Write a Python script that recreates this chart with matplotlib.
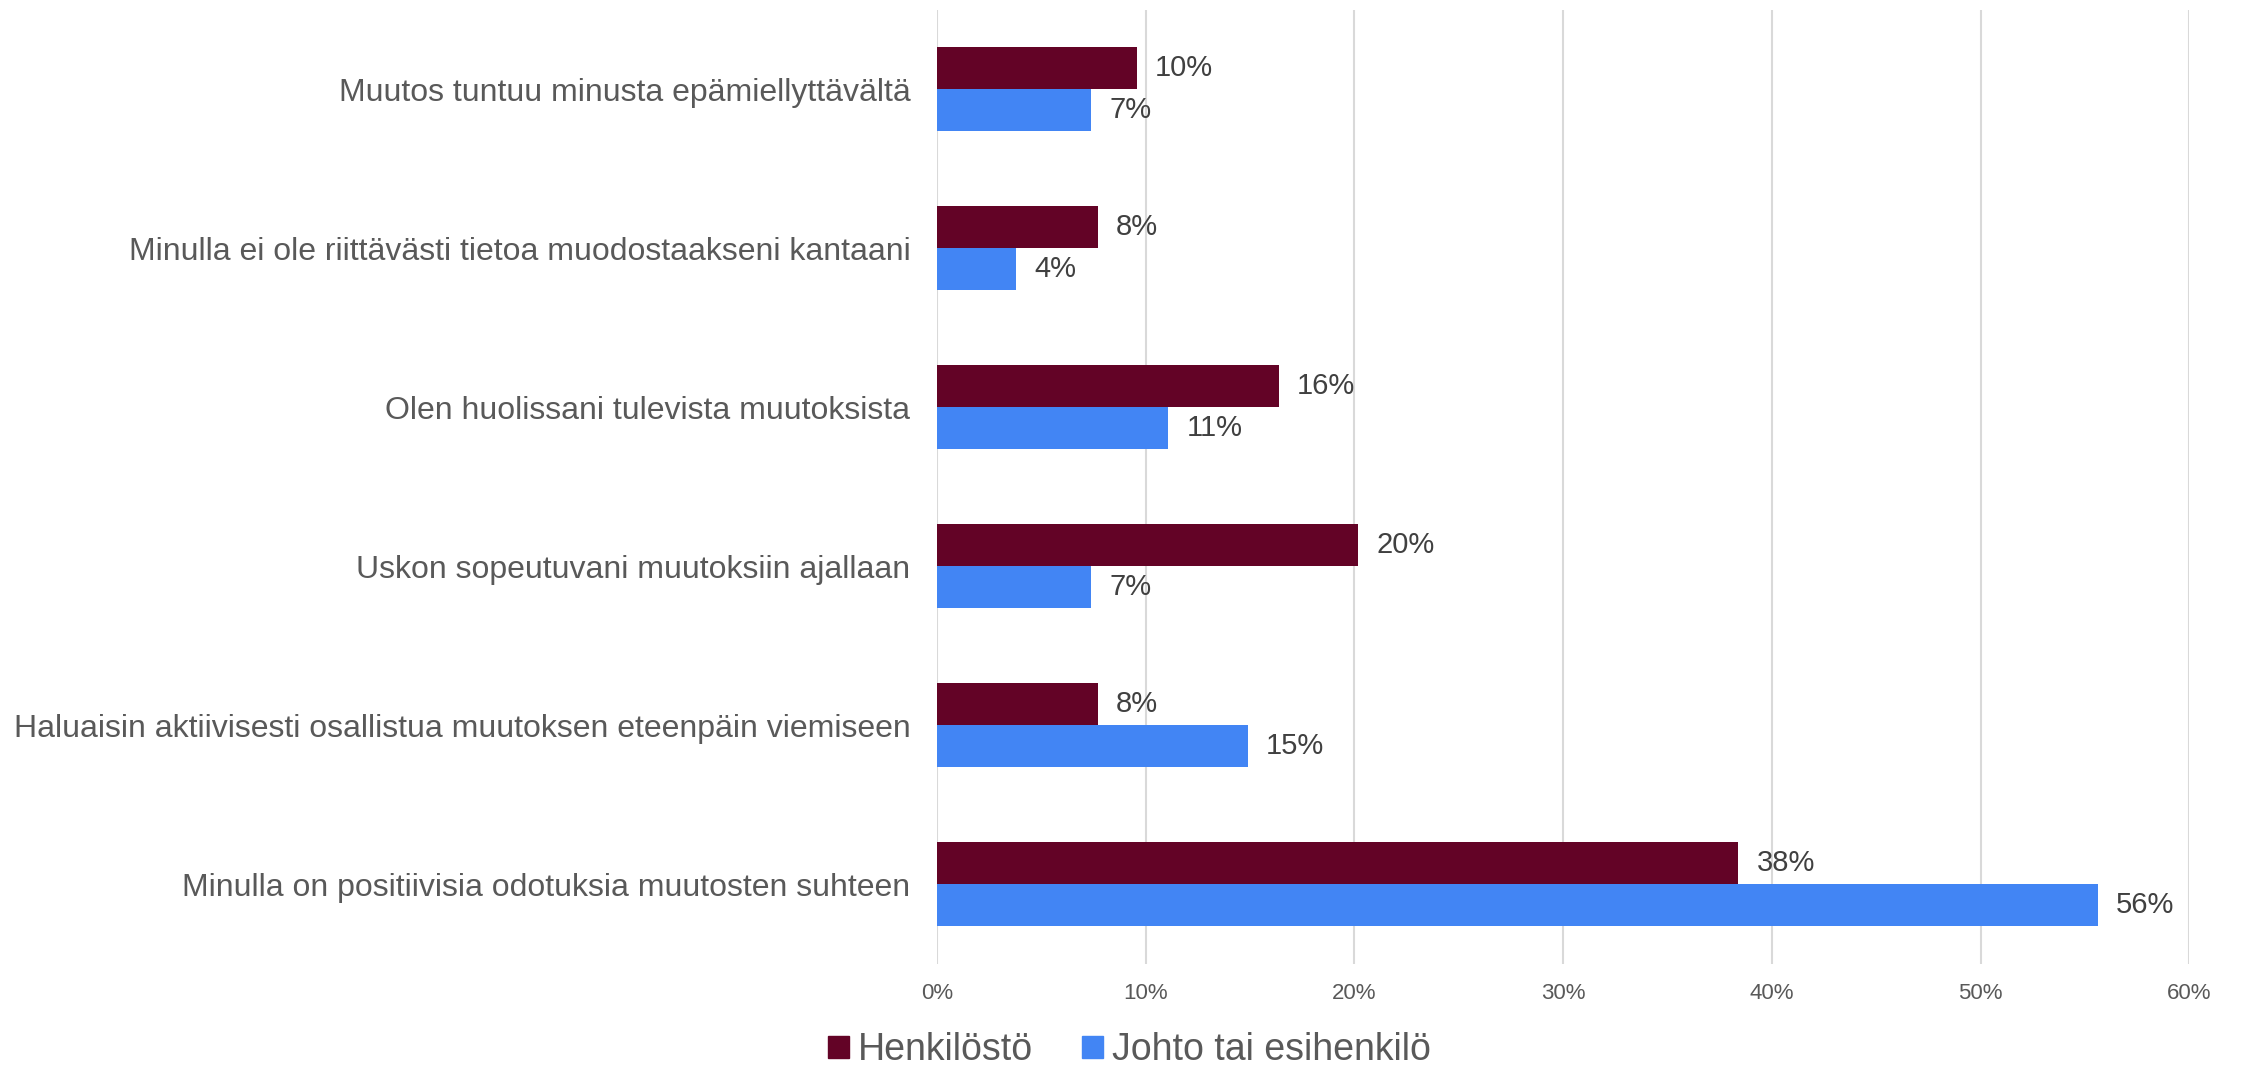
import numpy as np
import matplotlib
matplotlib.use("Agg")
import matplotlib.pyplot as plt
from matplotlib.patches import Patch

plt.rcParams['font.family'] = ['Liberation Sans', 'DejaVu Sans']

categories = [
    "Muutos tuntuu minusta epämiellyttävältä",
    "Minulla ei ole riittävästi tietoa muodostaakseni kantaani",
    "Olen huolissani tulevista muutoksista",
    "Uskon sopeutuvani muutoksiin ajallaan",
    "Haluaisin aktiivisesti osallistua muutoksen eteenpäin viemiseen",
    "Minulla on positiivisia odotuksia muutosten suhteen",
]
henkilosto = [9.6, 7.7, 16.4, 20.2, 7.7, 38.4]
johto = [7.4, 3.8, 11.1, 7.4, 14.9, 55.6]
series_names = ["Henkilöstö", "Johto tai esihenkilö"]
xticks = [0, 10, 20, 30, 40, 50, 60]

col_h = "#630326"
col_j = "#4285F4"
text_col = "#595959"
label_col = "#404040"

fig = plt.figure(figsize=(22.41, 10.65), dpi=100)
ax = fig.add_axes([0.418, 0.095, 0.559, 0.896])

y = np.arange(len(categories))
h = 0.265
bars_h = ax.barh(y - h / 2, henkilosto, height=h, color=col_h)
bars_j = ax.barh(y + h / 2, johto, height=h, color=col_j)

for bars, vals in [(bars_h, henkilosto), (bars_j, johto)]:
    for b, v in zip(bars, vals):
        ax.annotate(f"{v:.0f}%", (v, b.get_y() + b.get_height() / 2),
                    xytext=(13, 0), textcoords="offset points",
                    va="center", ha="left", fontsize=21, color=label_col)

ax.set_xlim(0, 60)
ax.set_ylim(len(categories) - 0.5, -0.5)
ax.set_yticks(y)
ax.set_yticklabels(categories, fontsize=23, color=text_col)
ax.set_xticks(xticks)
ax.set_xticklabels([f"{t}%" for t in xticks], fontsize=16, color=text_col)
ax.tick_params(axis='both', length=0)
ax.tick_params(axis='y', pad=19)
ax.tick_params(axis='x', pad=14)

ax.grid(axis='x', color="#d9d9d9", linewidth=1.5)
ax.set_axisbelow(True)
for s in ax.spines.values():
    s.set_visible(False)

handles = [Patch(color=col_h), Patch(color=col_j)]
fig.legend(handles, series_names, loc='center', bbox_to_anchor=(0.504, 0.014),
           ncol=2, frameon=False, fontsize=27, handlelength=0.55, handleheight=0.55,
           handletextpad=0.25, columnspacing=1.3, labelcolor=text_col)

fig.savefig("out.png", dpi=100)
